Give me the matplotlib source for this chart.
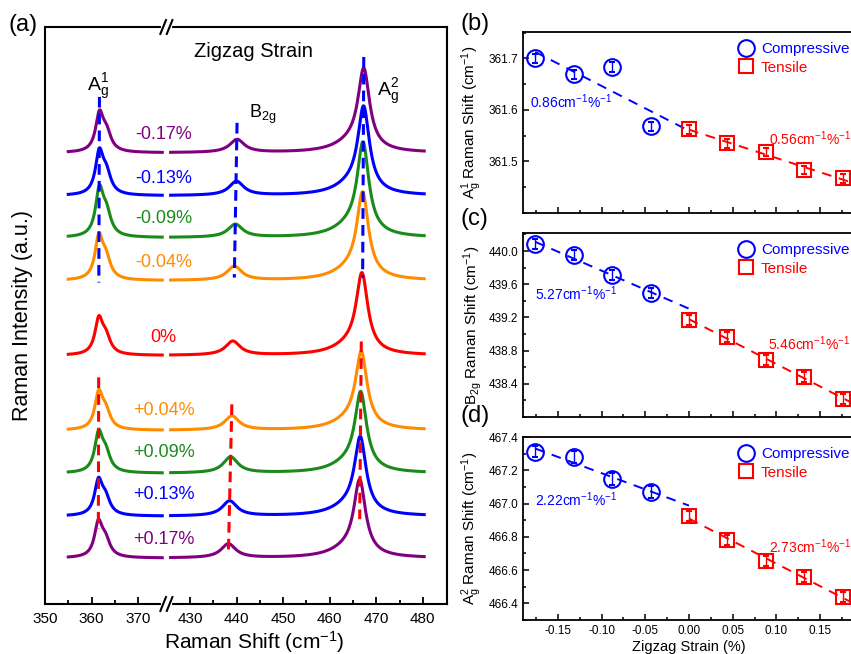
import matplotlib
matplotlib.use('Agg')
import matplotlib.pyplot as plt
import numpy as np

plt.rcParams['font.family'] = ['Liberation Sans', 'DejaVu Sans']
plt.rcParams['mathtext.default'] = 'regular'

# ---- data ----
strain_labels = ['-0.17%', '-0.13%', '-0.09%', '-0.04%', '0%', '+0.04%', '+0.09%', '+0.13%', '+0.17%']
colors = ['#800080', '#0000ff', '#1a8a1a', '#ff8c00', '#ff0000', '#ff8c00', '#1a8a1a', '#0000ff', '#800080']
offsets = [452, 409, 367, 324, 249, 174, 131, 88, 46]          # baselines (a.u.)
h_a1 = [43, 48, 53, 48, 40, 41, 44, 39, 39]                      # A1g peak height
h_b2 = [13, 14, 13, 14, 14, 14, 16, 15, 14]                      # B2g peak height
h_a2 = [85, 90, 96, 89, 83, 79, 82, 80, 79]                      # A2g peak height
label_y = [470, 426, 386, 342, 267, 194, 152, 110, 65]

strain = [-0.176, -0.132, -0.088, -0.044, 0.0, 0.044, 0.088, 0.132, 0.176]
pos_a1 = [361.700, 361.669, 361.683, 361.568, 361.562, 361.535, 361.519, 361.483, 361.467]
err_a1 = [0.009, 0.009, 0.009, 0.009, 0.008, 0.008, 0.008, 0.008, 0.008]
pos_b2 = [440.08, 439.954, 439.71, 439.49, 439.166, 438.963, 438.69, 438.477, 438.22]
err_b2 = [0.06, 0.06, 0.06, 0.06, 0.06, 0.06, 0.06, 0.06, 0.06]
pos_a2 = [467.312, 467.279, 467.147, 467.07, 466.924, 466.78, 466.656, 466.557, 466.44]
err_a2 = [0.035, 0.035, 0.035, 0.035, 0.03, 0.03, 0.03, 0.03, 0.03]
slope_text = [('0.86', '0.56'), ('5.27', '5.46'), ('2.22', '2.73')]

# ---- broken x axis for panel (a) ----
XA, XB, UA, UB = 375.5, 425.5, 375.5, 376.7


def fwd(x):
    x = np.asarray(x, float)
    return np.where(x <= XA, x, np.where(x >= XB, x - (XB - UB),
                    UA + (x - XA) * (UB - UA) / (XB - XA)))


def inv(u):
    u = np.asarray(u, float)
    return np.where(u <= UA, u, np.where(u >= UB, u + (XB - UB),
                    XA + (u - UA) * (XB - XA) / (UB - UA)))


def lor(x, x0, w):
    return 1.0 / (1.0 + ((x - x0) / w) ** 2)


fig = plt.figure(figsize=(8.51, 6.54), dpi=100)
ax = fig.add_axes([45 / 851, 1 - 604 / 654, 402 / 851, 577 / 654])
ax.set_xscale('function', functions=(fwd, inv))
ax.set_xlim(350, 485.2)
ax.set_ylim(0, 578)

xl = np.linspace(355, 375.2, 400)
xr = np.linspace(425.8, 480.3, 1200)
for i in range(9):
    xf1 = np.linspace(355, 375, 2000)
    n1 = (lor(xf1, pos_a1[i], 1.0) + 0.5 * lor(xf1, pos_a1[i] + 1.5, 1.2)).max()
    xf3 = np.linspace(455, 480, 2000)
    n3 = (lor(xf3, pos_a2[i], 1.5) + 0.12 * lor(xf3, pos_a2[i] - 2.5, 4.5)).max()
    for xs in (xl, xr):
        s1 = lor(xs, pos_a1[i], 1.0) + 0.5 * lor(xs, pos_a1[i] + 1.5, 1.2)
        s2 = lor(xs, pos_b2[i], 1.9)
        s3 = lor(xs, pos_a2[i], 1.5) + 0.12 * lor(xs, pos_a2[i] - 2.5, 4.5)
        y = offsets[i] + h_a1[i] * s1 / n1 + h_b2[i] * s2 + h_a2[i] * s3 / n3
        ax.plot(xs, y, color=colors[i], lw=2.2)
    ax.text(375.5, label_y[i], strain_labels[i], color=colors[i], fontsize=13,
            ha='center', va='center')

# guide lines through the peak positions
for pos, yb, yr in ((pos_a1, (508, 322), (227, 75)),
                    (pos_b2, (482, 327), (200, 52)),
                    (pos_a2, (548, 327), (263, 85))):
    ax.plot([pos[0], pos[3]], yb, color='#0000ff', lw=2.2, ls=(0, (3.5, 2)))
    ax.plot([pos[5], pos[8]], yr, color='#ff0000', lw=2.2, ls=(0, (3.5, 2)))

ax.text(443.5, 553, 'Zigzag Strain', fontsize=14.5, ha='center', va='center')
ax.text(361.4, 518, r'$A_g^1$', fontsize=14, ha='center', va='center')
ax.text(445.5, 490, r'$B_{2g}$', fontsize=13, ha='center', va='center')
ax.text(472.5, 513, r'$A_g^2$', fontsize=14, ha='center', va='center')

ax.set_xticks([350, 360, 370, 430, 440, 450, 460, 470, 480])
ax.set_xticks([355, 365, 435, 445, 455, 465, 475], minor=True)
ax.set_yticks([])
ax.tick_params(axis='x', which='both', direction='in', labelsize=11, width=1.3, pad=6)
ax.tick_params(axis='x', which='major', length=5)
ax.tick_params(axis='x', which='minor', length=3)
for sp in ax.spines.values():
    sp.set_linewidth(1.5)
ax.set_xlabel('Raman Shift (cm$^{-1}$)', fontsize=15)
ax.xaxis.set_label_coords(0.52, -0.043)
ax.set_ylabel('Raman Intensity (a.u.)', fontsize=15.5)
ax.yaxis.set_label_coords(-0.03, 0.5)

# break marks on top and bottom spines
xf = (float(fwd(400)) - 350) / (float(fwd(485.2)) - 350)
for yy in (0, 1):
    ax.plot([xf - 0.009, xf + 0.009], [yy, yy], color='white', lw=3,
            transform=ax.transAxes, clip_on=False, zorder=5)
    for off in (-0.008, 0.008):
        ax.plot([xf + off - 0.007, xf + off + 0.007], [yy - 0.012, yy + 0.012],
                color='k', lw=1.5, transform=ax.transAxes, clip_on=False, zorder=6)

# ---- panels (b), (c), (d) ----
rects = [[523 / 851, 1 - 213 / 654, 332 / 851, 181 / 654],
         [523 / 851, 1 - 417 / 654, 332 / 851, 184 / 654],
         [523 / 851, 1 - 620 / 654, 332 / 851, 183 / 654]]
ydata = [pos_a1, pos_b2, pos_a2]
yerrs = [err_a1, err_b2, err_a2]
ylims = [(361.444, 361.751), (438.103, 440.217), (466.304, 467.40)]
yticks = [[361.5, 361.6, 361.7], [438.4, 438.8, 439.2, 439.6, 440.0],
          [466.4, 466.6, 466.8, 467.0, 467.2, 467.4]]
ylabels = [r'$A_g^1$ Raman Shift (cm$^{-1}$)', r'$B_{2g}$ Raman Shift (cm$^{-1}$)',
           r'$A_g^2$ Raman Shift (cm$^{-1}$)']
slope_pos = [((-0.182, 361.615), (0.092, 361.544)),
             ((-0.176, 439.486), (0.090, 438.88)),
             ((-0.176, 467.024), (0.091, 466.743))]
panel_tags = [('(b)', 24), ('(c)', 219), ('(d)', 416)]

sc = np.array(strain)
for k in range(3):
    a = fig.add_axes(rects[k])
    yv = np.array(ydata[k])
    ye = np.array(yerrs[k])
    c, t = slice(0, 4), slice(4, 9)
    pc = np.polyfit(sc[c], yv[c], 1)
    pt = np.polyfit(sc[t], yv[t], 1)
    xc = np.array([sc[0], 0.0])
    xt = np.array([0.0, 0.19])
    a.plot(xc, np.polyval(pc, xc), color='#0000ff', lw=1.4, ls=(0, (5, 4)))
    a.plot(xt, np.polyval(pt, xt), color='#ff0000', lw=1.4, ls=(0, (5, 4)))
    a.errorbar(sc[c], yv[c], yerr=ye[c], fmt='o', ms=12, mfc='none', mec='#0000ff',
               mew=1.5, ecolor='#0000ff', elinewidth=1, capsize=2.5, label='Compressive')
    a.errorbar(sc[t], yv[t], yerr=ye[t], fmt='s', ms=10.5, mfc='none', mec='#ff0000',
               mew=1.5, ecolor='#ff0000', elinewidth=1, capsize=2.5, label='Tensile')
    a.set_xlim(-0.19, 0.19)
    a.set_ylim(*ylims[k])
    a.set_yticks(yticks[k])
    a.set_yticklabels(['%.1f' % v for v in yticks[k]])
    a.set_xticks([-0.15, -0.10, -0.05, 0.00, 0.05, 0.10, 0.15])
    a.set_xticks(np.arange(-0.175, 0.19, 0.05), minor=True)
    step = yticks[k][1] - yticks[k][0]
    a.set_yticks(np.arange(ylims[k][0] - ylims[k][0] % (step / 2), ylims[k][1], step / 2), minor=True)
    a.tick_params(which='both', direction='in', labelsize=8.5, width=1.1)
    a.tick_params(which='major', length=4)
    a.tick_params(which='minor', length=2)
    if k < 2:
        a.tick_params(axis='x', labelbottom=False)
    else:
        a.set_xticklabels(['-0.15', '-0.10', '-0.05', '0.00', '0.05', '0.10', '0.15'])
        a.set_xlabel('Zigzag Strain (%)', fontsize=10.5, labelpad=2)
    for sp in a.spines.values():
        sp.set_linewidth(1.3)
    a.set_ylabel(ylabels[k], fontsize=11, labelpad=3)
    (bx, by), (rx, ry) = slope_pos[k]
    a.text(bx, by, slope_text[k][0] + r'cm$^{-1}$%$^{-1}$', color='#0000ff', fontsize=10,
           ha='left', va='center')
    a.text(rx, ry, slope_text[k][1] + r'cm$^{-1}$%$^{-1}$', color='#ff0000', fontsize=10,
           ha='left', va='center')
    h, l = a.get_legend_handles_labels()
    h = [hh[0] for hh in h]
    leg = a.legend(h, l, loc='upper left', bbox_to_anchor=(0.615, 0.995), frameon=False,
                   fontsize=11, handletextpad=0.4, labelspacing=0.3, borderaxespad=0.2,
                   handlelength=1.2)
    for txt, col in zip(leg.get_texts(), ['#0000ff', '#ff0000']):
        txt.set_color(col)
    fig.text(460 / 851, 1 - panel_tags[k][1] / 654, panel_tags[k][0], fontsize=17,
             ha='left', va='center')

fig.text(8 / 851, 1 - 25 / 654, '(a)', fontsize=17, ha='left', va='center')

fig.savefig('out.png', dpi=100)
